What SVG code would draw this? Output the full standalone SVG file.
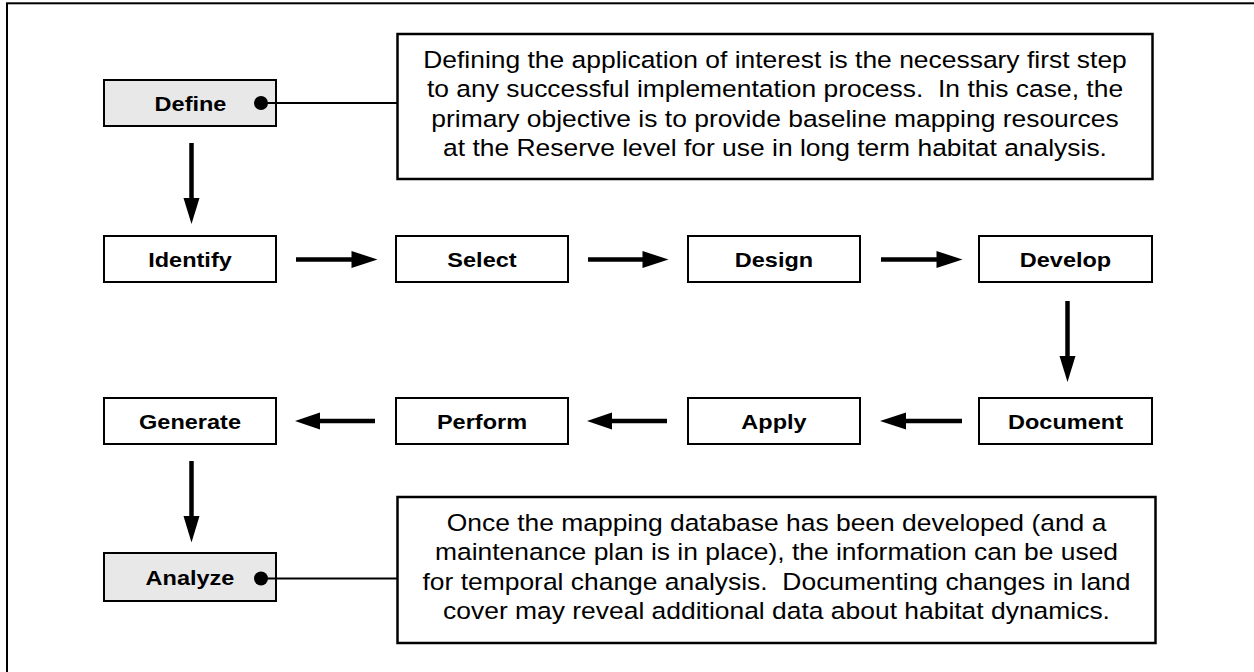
<svg xmlns="http://www.w3.org/2000/svg" width="1254" height="672" viewBox="0 0 1254 672">
<style>
.box{fill:#fff;stroke:#000;stroke-width:2}
.hl{fill:#e8e8e8;stroke:#000;stroke-width:2}
.note{fill:#fff;stroke:#000;stroke-width:2.5}
.lbl{font-family:"Liberation Sans",Arial,sans-serif;font-weight:bold;font-size:21px;text-anchor:middle;fill:#000}
.body{font-family:"Liberation Sans",Arial,sans-serif;font-size:23.5px;text-anchor:middle;fill:#000;white-space:pre}
.shaft{stroke:#000;stroke-width:4.5;fill:none}
.link{stroke:#000;stroke-width:2;fill:none}
</style>
<rect x="7" y="3.3" width="1300" height="700" fill="none" stroke="#000" stroke-width="2"/>

<g id="note-define">
  <rect class="note" x="397.5" y="34" width="755" height="145"/>
  <g transform="translate(775 0) scale(1.125 1)">
    <text class="body" x="0" y="68">Defining the application of interest is the necessary first step</text>
    <text class="body" x="0" y="97.5">to any successful implementation process.  In this case, the</text>
    <text class="body" x="0" y="127">primary objective is to provide baseline mapping resources</text>
    <text class="body" x="0" y="156.5">at the Reserve level for use in long term habitat analysis.</text>
  </g>
</g>

<g id="note-analyze">
  <rect class="note" x="397.5" y="497" width="758" height="146"/>
  <g transform="translate(776.5 0) scale(1.125 1)">
    <text class="body" x="0" y="531">Once the mapping database has been developed (and a</text>
    <text class="body" x="0" y="560.5">maintenance plan is in place), the information can be used</text>
    <text class="body" x="0" y="590">for temporal change analysis.  Documenting changes in land</text>
    <text class="body" x="0" y="619.5">cover may reveal additional data about habitat dynamics.</text>
  </g>
</g>

<g id="define"><rect class="hl" x="104" y="80" width="172" height="46"/>
  <text class="lbl" transform="translate(190.5 110.5) scale(1.12 1)">Define</text></g>
<g id="identify"><rect class="box" x="104" y="236" width="172" height="46"/>
  <text class="lbl" transform="translate(190 267) scale(1.12 1)">Identify</text></g>
<g id="select"><rect class="box" x="396" y="236" width="172" height="46"/>
  <text class="lbl" transform="translate(482 267) scale(1.12 1)">Select</text></g>
<g id="design"><rect class="box" x="688" y="236" width="172" height="46"/>
  <text class="lbl" transform="translate(774 267) scale(1.12 1)">Design</text></g>
<g id="develop"><rect class="box" x="979" y="236" width="173" height="46"/>
  <text class="lbl" transform="translate(1065.5 267) scale(1.12 1)">Develop</text></g>
<g id="generate"><rect class="box" x="104" y="398" width="172" height="46"/>
  <text class="lbl" transform="translate(190 429) scale(1.12 1)">Generate</text></g>
<g id="perform"><rect class="box" x="396" y="398" width="172" height="46"/>
  <text class="lbl" transform="translate(482 429) scale(1.12 1)">Perform</text></g>
<g id="apply"><rect class="box" x="688" y="398" width="172" height="46"/>
  <text class="lbl" transform="translate(774 429) scale(1.12 1)">Apply</text></g>
<g id="document"><rect class="box" x="979" y="398" width="173" height="46"/>
  <text class="lbl" transform="translate(1065.5 429) scale(1.12 1)">Document</text></g>
<g id="analyze"><rect class="hl" x="104" y="553" width="172" height="48"/>
  <text class="lbl" transform="translate(190 585) scale(1.12 1)">Analyze</text></g>

<g id="connectors">
  <!-- Define -> Identify -->
  <line class="shaft" x1="191.5" y1="143" x2="191.5" y2="200"/>
  <polygon points="183.5,198 199.5,198 191.5,224"/>
  <!-- row 1 -->
  <line class="shaft" x1="296" y1="259.5" x2="354" y2="259.5"/>
  <polygon points="351.5,251 351.5,268 377.5,259.5"/>
  <line class="shaft" x1="588" y1="259.5" x2="645" y2="259.5"/>
  <polygon points="642.5,251 642.5,268 668.5,259.5"/>
  <line class="shaft" x1="881" y1="259.5" x2="939" y2="259.5"/>
  <polygon points="936.5,251 936.5,268 962.5,259.5"/>
  <!-- Develop -> Document -->
  <line class="shaft" x1="1067.5" y1="301" x2="1067.5" y2="358"/>
  <polygon points="1059.5,356 1075.5,356 1067.5,382"/>
  <!-- row 2 (leftwards) -->
  <line class="shaft" x1="962" y1="421" x2="904" y2="421"/>
  <polygon points="906,412.5 906,429.5 880,421"/>
  <line class="shaft" x1="667" y1="421" x2="610" y2="421"/>
  <polygon points="612,412.5 612,429.5 587,421"/>
  <line class="shaft" x1="375" y1="421" x2="318" y2="421"/>
  <polygon points="320,412.5 320,429.5 295,421"/>
  <!-- Generate -> Analyze -->
  <line class="shaft" x1="191.5" y1="461" x2="191.5" y2="518"/>
  <polygon points="183.5,516 199.5,516 191.5,542.5"/>
  <!-- note links -->
  <line class="link" x1="261" y1="103" x2="397" y2="103"/>
  <circle cx="261" cy="103" r="7"/>
  <line class="link" x1="261" y1="578.5" x2="397" y2="578.5"/>
  <circle cx="261" cy="578.5" r="7"/>
</g>
</svg>
